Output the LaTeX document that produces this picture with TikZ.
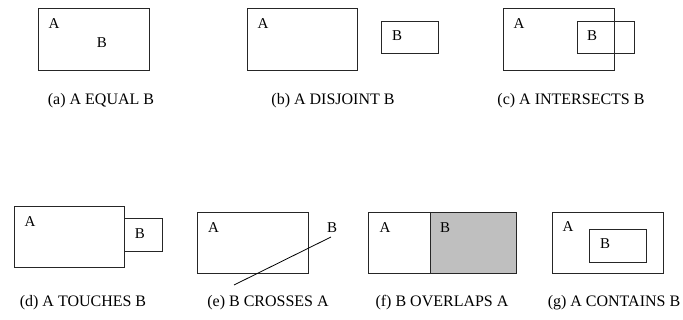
\documentclass[tikz,border=0pt]{standalone}
\usepackage{fontspec}
\setmainfont{Liberation Serif}
\begin{document}
\begin{tikzpicture}[x=1pt,y=-1pt,
  box/.style={draw=black!85,line width=0.9pt},
  lbl/.style={font=\fontsize{15}{17}\selectfont,inner sep=0pt},
  captext/.style={font=\fontsize{16}{18}\selectfont,inner sep=0pt,anchor=base}]
\useasboundingbox (0,0) rectangle (683,320);
% (a)
\draw[box] (38,8) rectangle (149,70);
\node[lbl] (aA) at (54,24) {A};
\node[lbl] (aB) at (102,43) {B};
\node[captext] (capa) at (101,105) {(a) A EQUAL B};
% (b)
\draw[box] (247,8) rectangle (357,70);
\draw[box] (381,21) rectangle (438,53);
\node[lbl] (bA) at (263,24) {A};
\node[lbl] (bB) at (397,36) {B};
\node[captext] (capb) at (333,105) {(b) A DISJOINT B};
% (c)
\draw[box] (503,8) rectangle (614,70);
\draw[box] (577,21) rectangle (634,53);
\node[lbl] (cA) at (519,24) {A};
\node[lbl] (cB) at (592,36) {B};
\node[captext] (capc) at (571,105) {(c) A INTERSECTS B};
% (d)
\draw[box] (14,206) rectangle (124,267);
\draw[box] (124,218) rectangle (162,251);
\node[lbl] (dA) at (30,222) {A};
\node[lbl] (dB) at (140,234) {B};
\node[captext] (capd) at (83,307) {(d) A TOUCHES B};
% (e)
\draw[box] (197,212) rectangle (308,273);
\coordinate (e1) at (234,285);
\coordinate (e2) at (331,237);
\draw[line width=0.8pt] (e1) -- (e2);
\node[lbl] (eA) at (213.5,227.5) {A};
\node[lbl] (eB) at (332,227.5) {B};
\node[captext] (cape) at (268,307) {(e) B CROSSES A};
% (f)
\fill[black!25] (430,212) rectangle (516,273);
\draw[box] (368,212) rectangle (516,273);
\draw[box] (430,212) -- (430,273);
\node[lbl] (fA) at (385,227.5) {A};
\node[lbl] (fB) at (445,227.5) {B};
\node[captext] (capf) at (442,307) {(f) B OVERLAPS A};
% (g)
\draw[box] (552,212) rectangle (663,273);
\draw[box] (589,229) rectangle (646,262);
\node[lbl] (gA) at (568,227) {A};
\node[lbl] (gB) at (605,244) {B};
\node[captext] (capg) at (614,307) {(g) A CONTAINS B};
\end{tikzpicture}
\end{document}
